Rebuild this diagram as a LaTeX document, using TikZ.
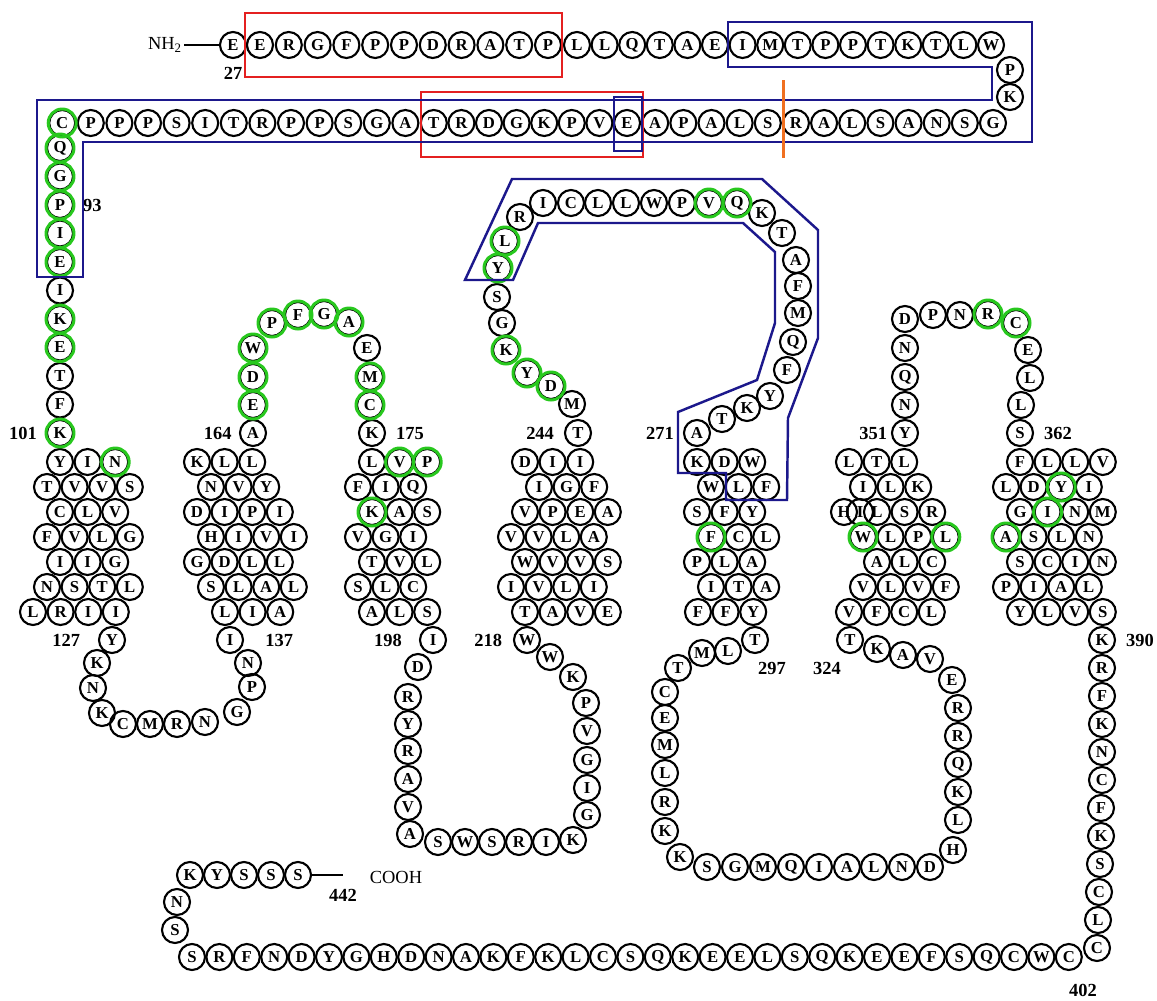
\documentclass[tikz,border=0pt]{standalone}
\usepackage{fontspec}
\setmainfont{Liberation Serif}
\usetikzlibrary{positioning}
\definecolor{boxblue}{RGB}{28,24,140}
\definecolor{boxred}{RGB}{228,32,32}
\definecolor{cutorange}{RGB}{240,112,32}
\definecolor{hitgreen}{RGB}{40,200,30}

\begin{document}
\begin{tikzpicture}[x=0.02cm,y=-0.02cm,
    res/.style={draw,circle,line width=1.2pt,minimum size=0.52cm,inner sep=0pt,font=\fontsize{9.5}{9.5}\selectfont\bfseries},
    hit/.style={draw=hitgreen,line width=1.7pt},
    num/.style={inner sep=1pt,font=\fontsize{10.5}{10.5}\selectfont\bfseries},
    term/.style={inner sep=1pt,font=\fontsize{10.5}{10.5}\selectfont},
    bluebox/.style={draw=boxblue,line width=1.4pt},
    redbox/.style={draw=boxred,line width=1.4pt}]
  \useasboundingbox (0,0) rectangle (1157,1001);

  % N-terminal tail
  \node[term] (nh2) at (165,45) {NH\textsubscript{2}};
  \node[res] (t1) at (233,45) {E};
  \foreach \l [count=\i from 2] in {E,R,G,F,P,P,D,R,A,T,P}
    \node[res] (t\i) at ({260+28.8*(\i-2)},45) {\l};
  \foreach \l [count=\i from 13] in {L,L,Q,T,A,E,I,M,T,P,P,T,K,T,L,W}
    \node[res] (t\i) at ({577+27.6*(\i-13)},45) {\l};
  \node[res] (t29) at (1010,70) {P};
  \node[res] (t30) at (1010,97) {K};
  \foreach \l [count=\i] in {G,S,N,A,S,L,A,R,S,L,A,P,A,E}
    \node[res] (s\i) at ({993-28.15*(\i-1)},123) {\l};
  \foreach \l [count=\i from 15] in {V,P,K,G,D,R,T}
    \node[res] (s\i) at ({627-27.6*(\i-14)},123) {\l};
  \foreach \l [count=\i from 22] in {A,G,S,P,P,R,T,I,S,P,P,P,C}
    \node[res] (s\i) at ({434-28.6*(\i-21)},123) {\l};
  \foreach \l [count=\i] in {Q,G,P,I,E,I,K,E,T,F,K}
    \node[res] (c\i) at (60,{148+28.5*(\i-1)}) {\l};
  \draw[line width=0.8pt] (nh2) -- (t1);

  % helices
  \foreach \row/\x/\y [count=\r] in {{Y,I,N}/60/462,{T,V,V,S}/47/487,{C,L,V}/60/512,{F,V,L,G}/47/537,{I,I,G}/60/562,{N,S,T,L}/47/587,{L,R,I,I}/33/612}
    \foreach \l [count=\c] in \row
      \node[res] (ha\r-\c) at ({\x+27.6*(\c-1)},\y) {\l};
  \foreach \row/\x/\y [count=\r] in {{K,L,L}/197/462,{N,V,Y}/211/487,{D,I,P,I}/197/512,{H,I,V,I}/211/537,{G,D,L,L}/197/562,{S,L,A,L}/211/587,{L,I,A}/225/612}
    \foreach \l [count=\c] in \row
      \node[res] (hb\r-\c) at ({\x+27.6*(\c-1)},\y) {\l};
  \foreach \row/\x/\y [count=\r] in {{L,V,P}/372/462,{F,I,Q}/358/487,{K,A,S}/372/512,{V,G,I}/358/537,{T,V,L}/372/562,{S,L,C}/358/587,{A,L,S}/372/612}
    \foreach \l [count=\c] in \row
      \node[res] (hc\r-\c) at ({\x+27.6*(\c-1)},\y) {\l};
  \foreach \row/\x/\y [count=\r] in {{D,I,I}/525/462,{I,G,F}/539/487,{V,P,E,A}/525/512,{V,V,L,A}/511/537,{W,V,V,S}/525/562,{I,V,L,I}/511/587,{T,A,V,E}/525/612}
    \foreach \l [count=\c] in \row
      \node[res] (hd\r-\c) at ({\x+27.6*(\c-1)},\y) {\l};
  \foreach \row/\x/\y [count=\r] in {{K,D,W}/697/462,{W,L,F}/711/487,{S,F,Y}/697/512,{F,C,L}/711/537,{P,L,A}/697/562,{I,T,A}/711/587,{F,F,Y}/698/612}
    \foreach \l [count=\c] in \row
      \node[res] (he\r-\c) at ({\x+27.6*(\c-1)},\y) {\l};
  \foreach \row/\x/\y [count=\r] in {{L,T,L}/849/462,{I,L,K}/863/487,{L,S,R}/877/512,{W,L,P,L}/863/537,{A,L,C}/877/562,{V,L,V,F}/863/587,{V,F,C,L}/849/612}
    \foreach \l [count=\c] in \row
      \node[res] (hf\r-\c) at ({\x+27.6*(\c-1)},\y) {\l};
  \node[res] (hf3-a) at (844,512) {H};
  \node[res] (hf3-b) at (860,512) {I};
  \foreach \row/\x/\y [count=\r] in {{F,L,L,V}/1020/462,{L,D,Y,I}/1006/487,{G,I,N,M}/1020/512,{A,S,L,N}/1006/537,{S,C,I,N}/1020/562,{P,I,A,L}/1006/587,{Y,L,V,S}/1020/612}
    \foreach \l [count=\c] in \row
      \node[res] (hg\r-\c) at ({\x+27.6*(\c-1)},\y) {\l};

  % loops
  \foreach \l/\x/\y [count=\i] in {Y/112/640,K/97/663,N/93/688,K/102/713,C/123/724,M/150/724,R/177/724,N/205/722,G/237/712,P/252/687,N/248/663,I/230/640}
    \node[res] (la\i) at (\x,\y) {\l};
  \foreach \l/\x/\y [count=\i] in {A/253/433,E/253/405,D/253/377,W/253/348,P/272/323,F/298/315,G/324/314,A/349/322,E/367/348,M/370/377,C/370/405,K/372/433}
    \node[res] (lb\i) at (\x,\y) {\l};
  \foreach \l/\x/\y [count=\i] in {I/433/640,D/418/667,R/408/697,Y/408/724,R/408/751,A/408/779,V/408/807,A/410/834,S/438/842,W/465/842,S/492/842,R/519/842,I/546/842,K/573/840,G/587/815,I/587/788,G/587/760,V/587/731,P/586/703,K/573/677,W/550/657,W/527/640}
    \node[res] (lc\i) at (\x,\y) {\l};
  \foreach \l/\x/\y [count=\i] in {T/578/433,M/572/404,D/551/386,Y/527/373,K/506/350,G/502/323,S/497/297,Y/498/268,L/505/241,R/520/217,I/543/203,C/571/203,L/598/203,L/626/203,W/654/203,P/682/203,V/709/203,Q/737/203,K/762/213,T/782/233,A/796/260,F/798/286,M/798/313,Q/793/342,F/787/370,Y/770/396,K/747/408,T/722/419,A/697/433}
    \node[res] (ld\i) at (\x,\y) {\l};
  \foreach \l/\x/\y [count=\i] in {T/755/640,L/728/651,M/702/653,T/678/668,C/665/692,E/665/718,M/665/745,L/665/773,R/665/802,K/665/831,K/680/857,S/707/867,G/735/867,M/763/867,Q/791/867,I/819/867,A/847/867,L/874/867,N/902/867,D/930/867,H/953/850,L/958/820,K/958/792,Q/958/764,R/958/736,R/958/708,E/952/680,V/930/659,A/903/655,K/877/649,T/850/640}
    \node[res] (le\i) at (\x,\y) {\l};
  \foreach \l/\x/\y [count=\i] in {Y/905/433,N/905/405,Q/905/377,N/905/348,D/905/319,P/933/315,N/960/315,R/988/314,C/1016/323,E/1028/350,L/1030/378,L/1021/405,S/1020/433}
    \node[res] (lf\i) at (\x,\y) {\l};

  % C-terminal tail
  \foreach \l/\x/\y [count=\i] in {K/1102/640,R/1102/668,F/1102/696,K/1102/724,N/1102/752,C/1102/780,F/1101/808,K/1101/836,S/1100/864,C/1099/892,L/1098/920,C/1097/948}
    \node[res] (ct\i) at (\x,\y) {\l};
  \foreach \l [count=\i] in {S,R,F,N,D,Y,G,H,D,N,A,K,F,K,L,C,S,Q,K,E,E,L,S,Q,K,E,E,F,S,Q,C,W,C}
    \node[res] (br\i) at ({192+27.4*(\i-1)},957) {\l};
  \foreach \l/\x/\y [count=\i] in {S/175/930,N/177/902,K/190/875,Y/217/875,S/244/875,S/271/875,S/298/875}
    \node[res] (tl\i) at (\x,\y) {\l};
  \coordinate (cend) at (343,875);
  \draw[line width=0.8pt] (tl7) -- (cend);
  \node[term] (cooh) at (396,877) {COOH};

  % highlighted residues
  \foreach \n in {s34,c1,c2,c3,c4,c5,c7,c8,c11,ha1-3,lb2,lb3,lb4,lb5,lb6,lb7,lb8,lb10,lb11,hc1-2,hc1-3,hc3-1,ld3,ld4,ld5,ld8,ld9,ld17,ld18,he4-1,hf4-1,hf4-4,lf8,lf9,hg2-3,hg3-2,hg4-1}
    \draw[hit] (\n) circle[radius=0.28cm];

  % position numbers
  \node[num,below=3.5pt of t1] (n27) {27};
  \node[num,right=4pt of c3] (n93) {93};
  \node[num,left=4pt of c11] (n101) {101};
  \node[num,left=9pt of la1] (n127) {127};
  \node[num,right=11pt of la12] (n137) {137};
  \node[num,left=3pt of lb1] (n164) {164};
  \node[num,right=4.5pt of lb12] (n175) {175};
  \node[num,left=8.5pt of lc1] (n198) {198};
  \node[num,left=5pt of lc22] (n218) {218};
  \node[num,left=4.5pt of ld1] (n244) {244};
  \node[num,left=4pt of ld29] (n271) {271};
  \node[num] (n297) at (772,668) {297};
  \node[num] (n324) at (827,668) {324};
  \node[num,left=1pt of lf1] (n351) {351};
  \node[num,right=4.5pt of lf13] (n362) {362};
  \node[num,right=4.5pt of ct1] (n390) {390};
  \node[num] (n402) at (1083,990) {402};
  \node[num,below=7pt of cend] (n442) {442};

  % frames
  \draw[redbox] (245,13) rectangle (562,77);
  \draw[redbox] (421,92) rectangle (643,157);
  \draw[bluebox] (728,22) -- (1032,22) -- (1032,142) -- (83,142) -- (83,277) -- (37,277) -- (37,100) -- (992,100) -- (992,67) -- (728,67) -- cycle;
  \draw[bluebox] (614,97) rectangle (642,151);
  \draw[cutorange,line width=1.7pt] (783,80) -- (783,158);
  \draw[bluebox] (465,280) -- (512,179) -- (762,179) -- (818,230) -- (818,338) -- (788,418) -- (787,500) -- (726,500) -- (726,473) -- (678,473) -- (678,412) -- (757,380) -- (775,323) -- (775,252) -- (743,223) -- (538,223) -- (513,280) -- cycle;
\end{tikzpicture}
\end{document}
